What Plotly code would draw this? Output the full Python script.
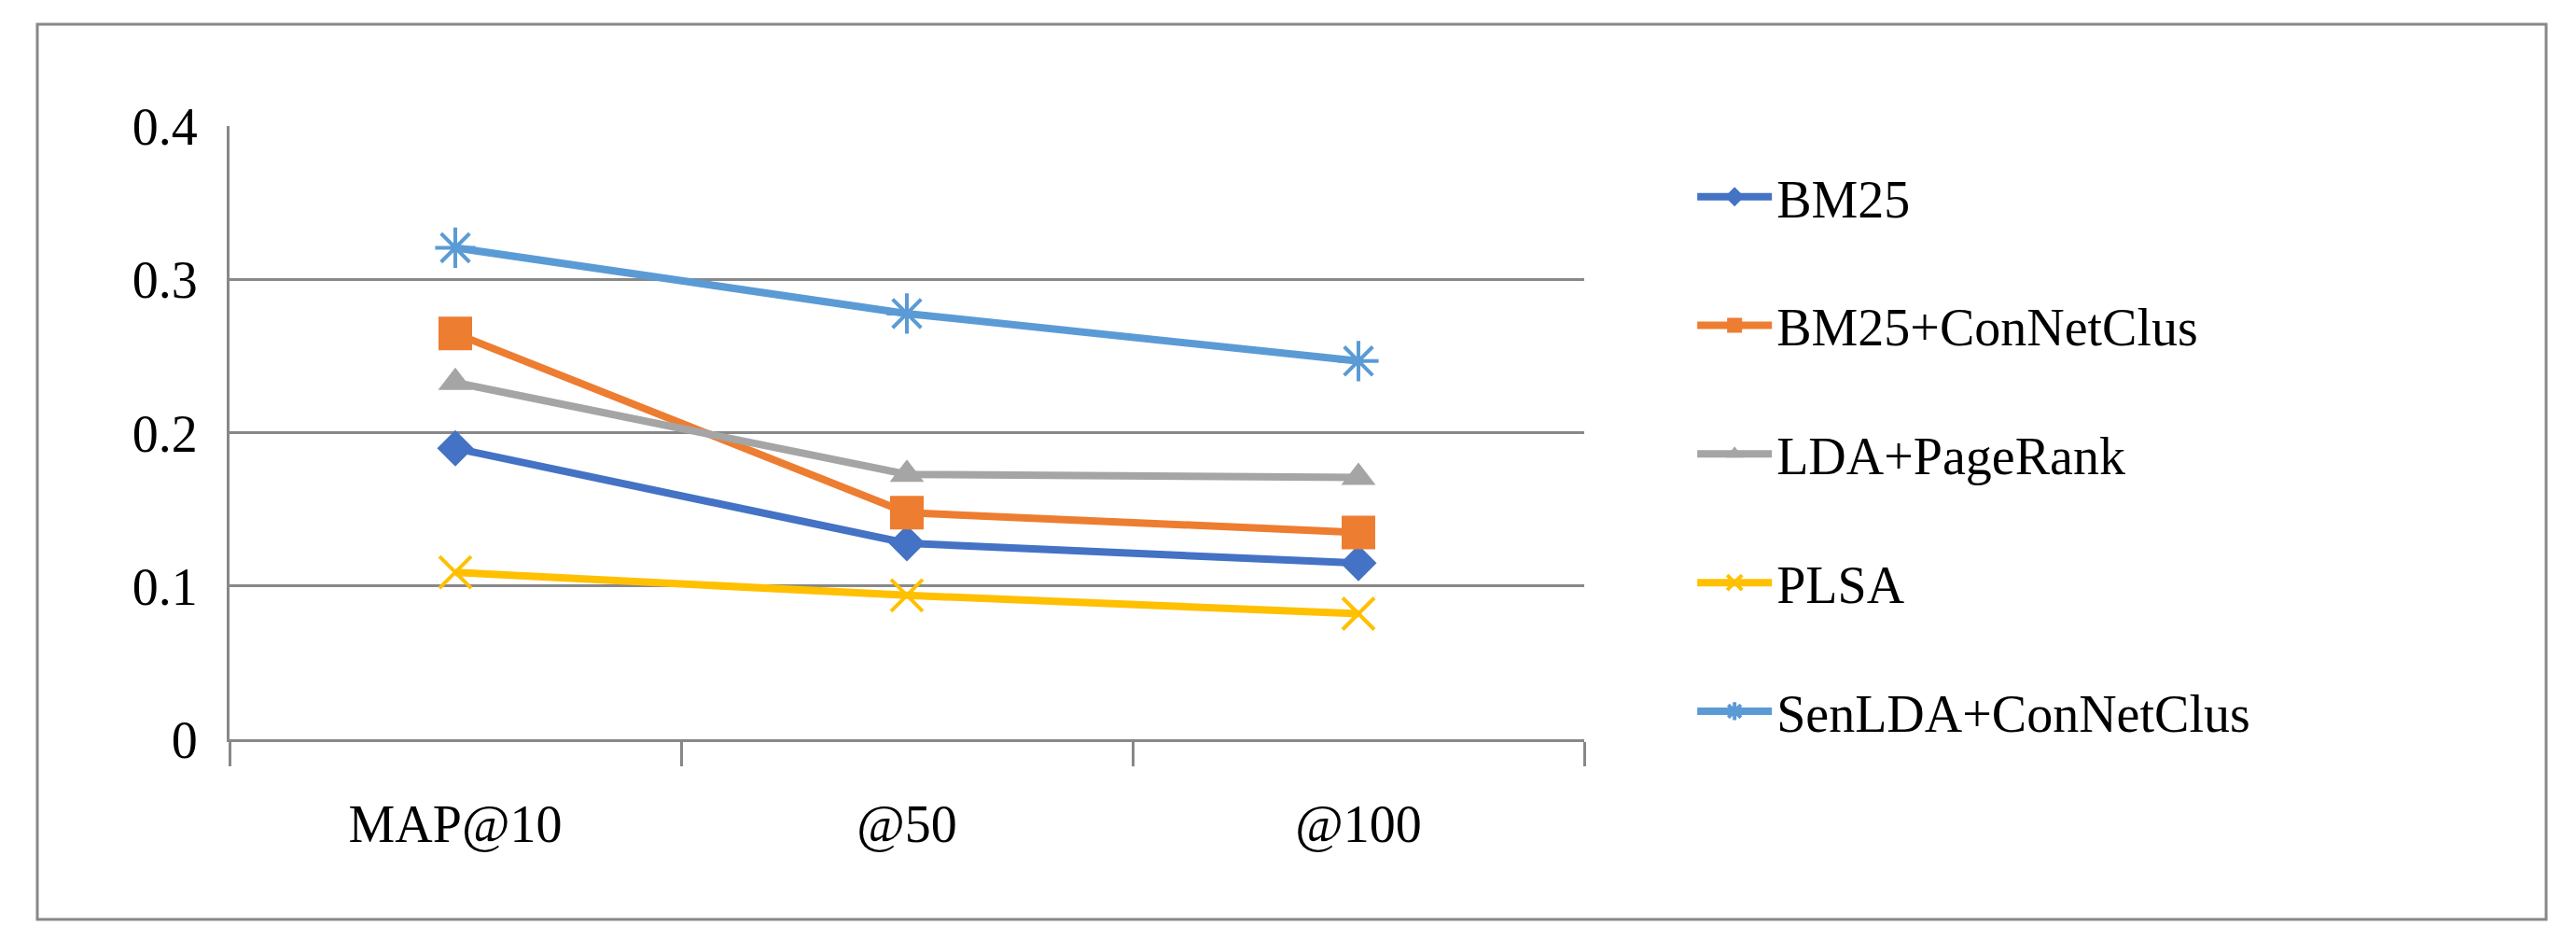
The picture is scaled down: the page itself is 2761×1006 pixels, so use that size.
import plotly.graph_objects as go

categories = ["MAP@10", "@50", "@100"]
series_names = ["BM25", "BM25+ConNetClus", "LDA+PageRank", "PLSA", "SenLDA+ConNetClus"]
bm25 = [0.19, 0.128, 0.115]
bm25_cnc = [0.265, 0.148, 0.135]
lda_pr = [0.233, 0.173, 0.171]
plsa = [0.109, 0.094, 0.082]
senlda = [0.321, 0.278, 0.247]
y_ticks = [0, 0.1, 0.2, 0.3, 0.4]
y_tick_labels = ["0", "0.1", "0.2", "0.3", "0.4"]

colors = ["#4472C4", "#ED7D31", "#A5A5A5", "#FFC000", "#5B9BD5"]
symbols = ["diamond", "square", "triangle-up", "x-thin-open", "asterisk-open"]
sizes = [30, 36, 32, 34, 36]
values = [bm25, bm25_cnc, lda_pr, plsa, senlda]

fig = go.Figure()
for name, vals, c, s, sz in zip(series_names, values, colors, symbols, sizes):
    open_sym = s.endswith("open")
    fig.add_trace(go.Scatter(
        x=categories, y=vals, name=name, mode="lines+markers", legendgroup=name,
        line=dict(color=c, width=8),
        marker=dict(symbol=s, size=sz, color=c, line=dict(color=c, width=4 if open_sym else 0)),
    ))

font = "Liberation Serif, DejaVu Serif, serif"
fig.update_layout(
    width=2761, height=1006, paper_bgcolor="white", plot_bgcolor="white",
    margin=dict(l=238, r=1071, t=127, b=222),
    font=dict(family=font, size=56, color="black"),
    showlegend=True,
    legend=dict(x=1.08, y=0.95, xanchor="left", yanchor="top", font=dict(size=56),
                tracegroupgap=62, itemwidth=80),
    xaxis=dict(type="category", range=[-0.5, 2.5], tickson="boundaries", ticks="outside", ticklen=26,
               tickcolor="#888888", tickwidth=3, showgrid=False, showline=True,
               linecolor="#888888", linewidth=3, ticklabelstandoff=40,
               tickfont=dict(size=56)),
    yaxis=dict(range=[0, 0.4005], tickvals=y_ticks, ticktext=y_tick_labels,
               showgrid=True, gridcolor="#888888", gridwidth=3, showline=True,
               linecolor="#888888", linewidth=3, zeroline=False,
               ticks="", ticklabelstandoff=20, tickfont=dict(size=56)),
    shapes=[dict(type="rect", xref="paper", yref="paper",
                 x0=-206/1452, x1=(2721-238)/1452, y0=-(977-784)/657, y1=1 + (127-18)/657,
                 line=dict(color="#888888", width=3))],
)
fig.write_html("out.html")
